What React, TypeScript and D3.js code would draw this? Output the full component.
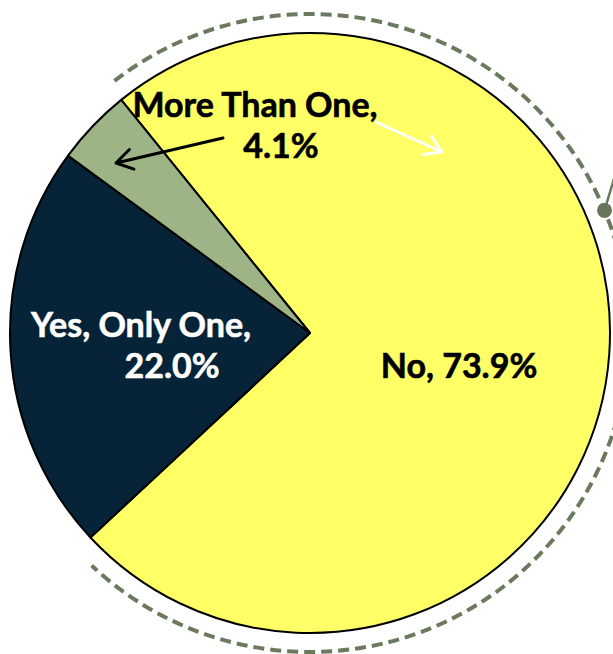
import { useEffect, useRef } from "react"
import * as d3 from "d3"

const categories = ["No", "Yes, Only One", "More Than One"]
const shares = [73.9, 22.0, 4.1]
const sliceColors = ["#ffff66", "#062337", "#9db486"]

const W = 613
const H = 654
const cx = 310
const cy = 333
const R = 300
const deg = Math.PI / 180

export default function App() {
  const svgRef = useRef<SVGSVGElement>(null)

  useEffect(() => {
    if (!svgRef.current) return
    const svg = d3.select(svgRef.current)
    svg.selectAll("*").remove()

    const data = categories.map((name, i) => ({ name, value: shares[i] }))

    // pie rotated so the "No" slice starts up-left, like the original
    const pie = d3
      .pie<{ name: string; value: number }>()
      .sort(null)
      .value((d) => d.value)
      .startAngle(-39 * deg)
      .endAngle(-39 * deg + 2 * Math.PI)

    const arc = d3.arc<d3.PieArcDatum<{ name: string; value: number }>>().innerRadius(0).outerRadius(R)

    const g = svg.append("g").attr("transform", `translate(${cx},${cy})`)

    g.selectAll("path.slice")
      .data(pie(data))
      .enter()
      .append("path")
      .attr("class", "slice")
      .attr("d", arc)
      .attr("fill", (d, i) => sliceColors[i])
      .attr("stroke", "#000")
      .attr("stroke-width", 2)
      .attr("stroke-linejoin", "round")

    // dashed ring around the "No" slice
    const ringR = 319
    const ring = d3.path()
    ring.arc(0, 0, ringR, -37.8 * deg - Math.PI / 2, 223.2 * deg - Math.PI / 2)
    g.append("path")
      .attr("d", ring.toString())
      .attr("fill", "none")
      .attr("stroke", "#6b7a5e")
      .attr("stroke-width", 4)
      .attr("stroke-dasharray", "11 6")

    // callout dot + leader leaving the frame
    const dotA = 67.4 * deg
    const dx = Math.sin(dotA) * ringR
    const dy = -Math.cos(dotA) * ringR
    g.append("line")
      .attr("x1", dx)
      .attr("y1", dy)
      .attr("x2", dx + 12)
      .attr("y2", dy - 40)
      .attr("stroke", "#6b7a5e")
      .attr("stroke-width", 2.5)
    g.append("circle").attr("cx", dx).attr("cy", dy).attr("r", 7.5).attr("fill", "#68765a")

    // arrows
    const arrow = (x1: number, y1: number, x2: number, y2: number, color: string) => {
      const a = Math.atan2(y2 - y1, x2 - x1)
      const len = 19
      const spread = 32 * deg
      const p = d3.path()
      p.moveTo(x1, y1)
      p.lineTo(x2, y2)
      p.moveTo(x2 - len * Math.cos(a - spread), y2 - len * Math.sin(a - spread))
      p.lineTo(x2, y2)
      p.lineTo(x2 - len * Math.cos(a + spread), y2 - len * Math.sin(a + spread))
      svg
        .append("path")
        .attr("d", p.toString())
        .attr("fill", "none")
        .attr("stroke", color)
        .attr("stroke-width", 3)
        .attr("stroke-linecap", "round")
        .attr("stroke-linejoin", "round")
    }
    arrow(223, 138, 116, 163, "#000")
    arrow(376, 122, 442, 152, "#fff")

    // labels
    const labels = [
      { text: `${categories[2]},`, x: 255, y: 117, fill: "#000" },
      { text: `${shares[2].toFixed(1)}%`, x: 281, y: 158, fill: "#000" },
      { text: `${categories[1]},`, x: 141, y: 337, fill: "#fff" },
      { text: `${shares[1].toFixed(1)}%`, x: 172, y: 378, fill: "#fff" },
      { text: `${categories[0]}, ${shares[0].toFixed(1)}%`, x: 459, y: 378, fill: "#000" },
    ]
    svg
      .append("g")
      .attr("font-family", "Lato, 'Open Sans', sans-serif")
      .attr("font-weight", "bold")
      .attr("font-size", 34)
      .attr("text-anchor", "middle")
      .selectAll("text")
      .data(labels)
      .enter()
      .append("text")
      .attr("x", (d) => d.x)
      .attr("y", (d) => d.y)
      .attr("fill", (d) => d.fill)
      .attr("stroke", (d) => d.fill)
      .attr("stroke-width", 0.6)
      .text((d) => d.text)
  }, [])

  return (
    <svg
      ref={svgRef}
      width={W}
      height={H}
      style={{ position: "absolute", left: 0, top: 0, background: "#fff" }}
    />
  )
}
